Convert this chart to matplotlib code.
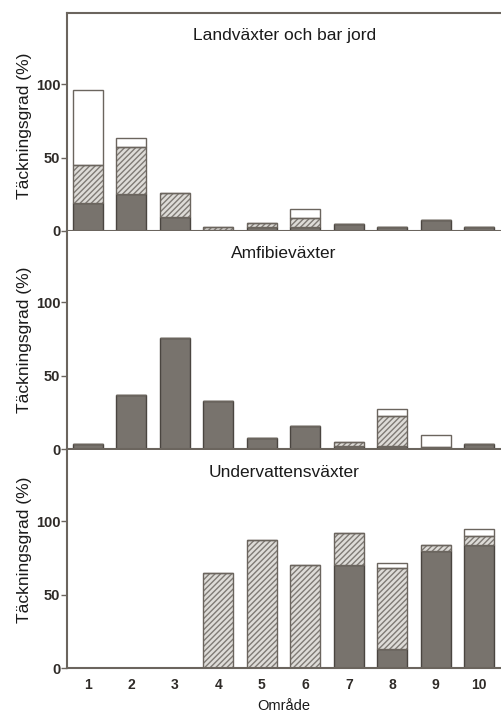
import matplotlib.pyplot as plt
import numpy as np

plt.rcParams['font.family'] = ['Liberation Sans', 'DejaVu Sans']

omrade = [1, 2, 3, 4, 5, 6, 7, 8, 9, 10]
titlar = ['Landväxter och bar jord', 'Amfibieväxter', 'Undervattensväxter']

# tre lager per panel: mörk (nederst), streckad (mitten), vit (överst)
land_mork = [19, 25, 9.5, 0.7, 2.5, 3, 4.5, 3, 7.5, 3]
land_streck = [26, 32, 16, 2.3, 3, 5.5, 0, 0, 0, 0]
land_vit = [51, 6.5, 0, 0, 0, 6.5, 0, 0, 0, 0]

amfi_mork = [3.5, 36.5, 75.5, 33, 7.8, 15.8, 2, 2, 1.5, 3.5]
amfi_streck = [0, 0, 0, 0, 0, 0, 3, 20.4, 0, 0]
amfi_vit = [0, 0, 0, 0, 0, 0, 0, 5, 7.9, 0]

under_mork = [0, 0, 0, 0, 0, 0, 70, 13, 80, 83.7]
under_streck = [0, 0, 0, 65, 87.5, 70.4, 22, 55, 4, 6.3]
under_vit = [0, 0, 0, 0, 0, 0, 0, 3.3, 0, 5]

data = [(land_mork, land_streck, land_vit),
        (amfi_mork, amfi_streck, amfi_vit),
        (under_mork, under_streck, under_vit)]

mork = '#78736d'
kant = '#4a4540'
ljus = '#dedcd8'
linje = '#6b655e'
text = '#2f2b28'

fig = plt.figure(figsize=(5.01, 7.15), dpi=100)
bottoms = [0.677, 0.372, 0.0657]
h = 0.305
label_y = [0.48, 0.5, 0.54]

x = np.array(omrade)
w = 0.69
for i, (m, s, v) in enumerate(data):
  ax = fig.add_axes([0.134, bottoms[i], 0.866, h])
  m = np.array(m); s = np.array(s); v = np.array(v)
  ax.bar(x, m, w, color=mork, edgecolor=kant, linewidth=1.0, zorder=3)
  ax.bar(x, s, w, bottom=m, color=ljus, edgecolor='#7f7a75', hatch='//////', linewidth=0, zorder=3)
  ax.bar(x, s, w, bottom=m, fill=False, edgecolor=linje, linewidth=1.0, zorder=4)
  ax.bar(x, v, w, bottom=m + s, color='white', edgecolor=linje, linewidth=1.0, zorder=3)

  ax.set_xlim(0.52, 10.5)
  ax.set_ylim(0, 148.5)
  ax.set_yticks([0, 50, 100])
  ax.tick_params(axis='y', direction='out', length=4, width=1, color=linje, labelsize=10.5, labelcolor=text, pad=1)
  for t in ax.get_yticklabels():
    t.set_fontweight('bold')
  ax.set_ylabel('Täckningsgrad (%)', fontsize=12.5, color='#1a1a1a')
  ax.yaxis.set_label_coords(-0.081, label_y[i])
  ax.text(0.5, 0.895, titlar[i], transform=ax.transAxes, ha='center', va='center', fontsize=12.5, color='#1a1a1a')

  ax.spines['right'].set_visible(False)
  if i > 0:
    ax.spines['top'].set_visible(False)
  for sp in ['left', 'top', 'bottom']:
    ax.spines[sp].set_color(linje)
    ax.spines[sp].set_linewidth(1.5)
  ax.spines['bottom'].set_zorder(5)

  ax.set_xticks(x)
  if i < 2:
    ax.tick_params(axis='x', length=0, labelbottom=False)
  else:
    ax.tick_params(axis='x', length=0, labelsize=10, labelcolor=text, pad=7)
    for t in ax.get_xticklabels():
      t.set_fontweight('bold')
    ax.set_xlabel('Område', fontsize=10.5, color='#1a1a1a', labelpad=5)

fig.savefig('out.png', dpi=100)
